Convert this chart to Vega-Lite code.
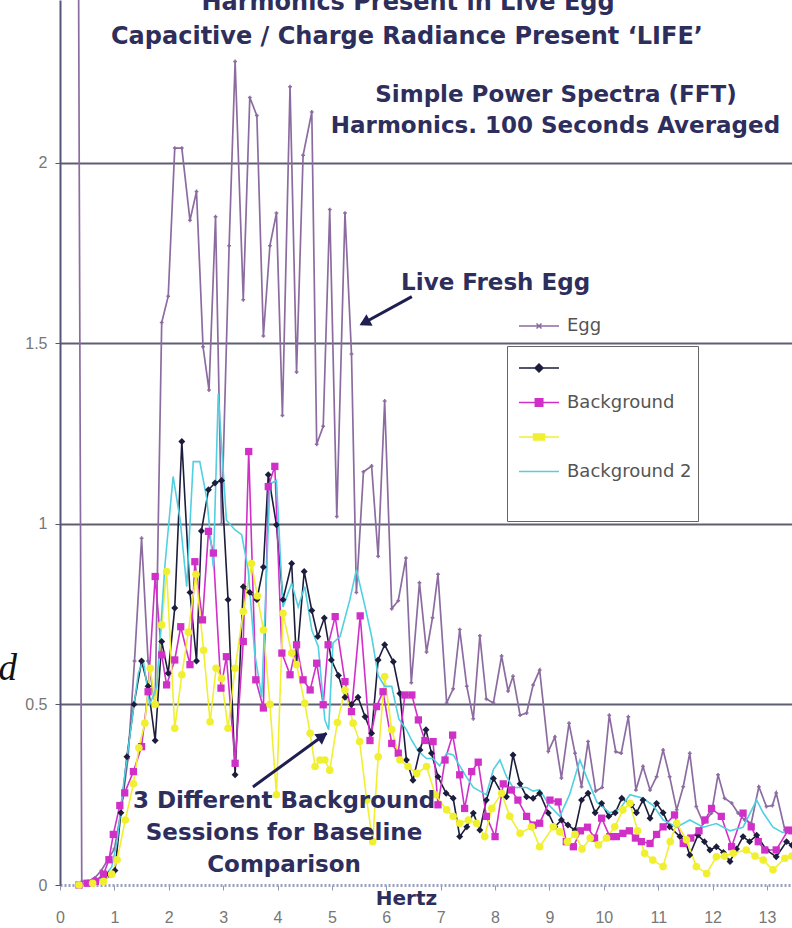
{
"$schema": "https://vega.github.io/schema/vega-lite/v6.json",
"width": 732, "height": 885,
"autosize": {"type": "none"},
"padding": {"left": 60, "top": 0, "right": 0, "bottom": 43},
"background": "white",
"config": {"view": {"stroke": null}, "font": "DejaVu Sans"},
"datasets": {
"egg": [
{"series":"Egg","x":0.33,"y":3.0},{"series":"Egg","x":0.40,"y":0.01},{"series":"Egg","x":0.52,"y":0.01},{"series":"Egg","x":0.64,"y":0.02},{"series":"Egg","x":0.76,"y":0.04},{"series":"Egg","x":0.88,"y":0.07},{"series":"Egg","x":1.00,"y":0.10},{"series":"Egg","x":1.12,"y":0.20},{"series":"Egg","x":1.25,"y":0.35},{"series":"Egg","x":1.37,"y":0.62},{"series":"Egg","x":1.50,"y":0.96},{"series":"Egg","x":1.62,"y":0.62},{"series":"Egg","x":1.75,"y":0.50},{"series":"Egg","x":1.87,"y":1.557},{"series":"Egg","x":1.99,"y":1.63},{"series":"Egg","x":2.11,"y":2.04},{"series":"Egg","x":2.24,"y":2.04},{"series":"Egg","x":2.39,"y":1.84},{"series":"Egg","x":2.51,"y":1.92},{"series":"Egg","x":2.63,"y":1.49},{"series":"Egg","x":2.74,"y":1.37},{"series":"Egg","x":2.86,"y":1.85},{"series":"Egg","x":2.97,"y":1.0},{"series":"Egg","x":3.11,"y":1.77},{"series":"Egg","x":3.22,"y":2.28},{"series":"Egg","x":3.37,"y":1.62},{"series":"Egg","x":3.49,"y":2.18},{"series":"Egg","x":3.62,"y":2.13},{"series":"Egg","x":3.74,"y":1.52},{"series":"Egg","x":3.86,"y":1.77},{"series":"Egg","x":3.98,"y":1.86},{"series":"Egg","x":4.09,"y":1.30},{"series":"Egg","x":4.23,"y":2.21},{"series":"Egg","x":4.35,"y":1.42},{"series":"Egg","x":4.47,"y":2.02},{"series":"Egg","x":4.63,"y":2.14},{"series":"Egg","x":4.72,"y":1.22},{"series":"Egg","x":4.84,"y":1.27},{"series":"Egg","x":4.96,"y":1.87},{"series":"Egg","x":5.09,"y":1.02},{"series":"Egg","x":5.24,"y":1.86},{"series":"Egg","x":5.36,"y":1.47},{"series":"Egg","x":5.45,"y":0.81},{"series":"Egg","x":5.58,"y":1.144},{"series":"Egg","x":5.73,"y":1.16},{"series":"Egg","x":5.85,"y":0.91},{"series":"Egg","x":5.97,"y":1.34},{"series":"Egg","x":6.10,"y":0.765},{"series":"Egg","x":6.22,"y":0.787},{"series":"Egg","x":6.36,"y":0.905},{"series":"Egg","x":6.46,"y":0.56},{"series":"Egg","x":6.61,"y":0.837},{"series":"Egg","x":6.74,"y":0.645},{"series":"Egg","x":6.85,"y":0.74},{"series":"Egg","x":6.95,"y":0.86},{"series":"Egg","x":7.11,"y":0.504},{"series":"Egg","x":7.23,"y":0.543},{"series":"Egg","x":7.35,"y":0.707},{"series":"Egg","x":7.48,"y":0.55},{"series":"Egg","x":7.60,"y":0.46},{"series":"Egg","x":7.72,"y":0.69},{"series":"Egg","x":7.84,"y":0.515},{"series":"Egg","x":7.97,"y":0.504},{"series":"Egg","x":8.12,"y":0.634},{"series":"Egg","x":8.24,"y":0.537},{"series":"Egg","x":8.33,"y":0.578},{"series":"Egg","x":8.46,"y":0.47},{"series":"Egg","x":8.58,"y":0.476},{"series":"Egg","x":8.70,"y":0.554},{"series":"Egg","x":8.82,"y":0.595},{"series":"Egg","x":8.98,"y":0.37},{"series":"Egg","x":9.10,"y":0.41},{"series":"Egg","x":9.22,"y":0.296},{"series":"Egg","x":9.36,"y":0.448},{"series":"Egg","x":9.47,"y":0.365},{"series":"Egg","x":9.59,"y":0.272},{"series":"Egg","x":9.71,"y":0.397},{"series":"Egg","x":9.85,"y":0.26},{"series":"Egg","x":9.97,"y":0.27},{"series":"Egg","x":10.10,"y":0.47},{"series":"Egg","x":10.22,"y":0.369},{"series":"Egg","x":10.32,"y":0.365},{"series":"Egg","x":10.45,"y":0.466},{"series":"Egg","x":10.59,"y":0.263},{"series":"Egg","x":10.72,"y":0.328},{"series":"Egg","x":10.85,"y":0.263},{"series":"Egg","x":10.97,"y":0.30},{"series":"Egg","x":11.09,"y":0.374},{"series":"Egg","x":11.21,"y":0.30},{"series":"Egg","x":11.34,"y":0.208},{"series":"Egg","x":11.46,"y":0.272},{"series":"Egg","x":11.58,"y":0.365},{"series":"Egg","x":11.70,"y":0.217},{"series":"Egg","x":11.83,"y":0.171},{"series":"Egg","x":11.98,"y":0.199},{"series":"Egg","x":12.10,"y":0.305},{"series":"Egg","x":12.22,"y":0.24},{"series":"Egg","x":12.35,"y":0.227},{"series":"Egg","x":12.47,"y":0.199},{"series":"Egg","x":12.59,"y":0.18},{"series":"Egg","x":12.71,"y":0.171},{"series":"Egg","x":12.85,"y":0.272},{"series":"Egg","x":12.99,"y":0.217},{"series":"Egg","x":13.10,"y":0.22},{"series":"Egg","x":13.17,"y":0.255},{"series":"Egg","x":13.33,"y":0.152},{"series":"Egg","x":13.46,"y":0.15}
],
"bg": [
{"series":"S1","x":0.35,"y":0.0},{"series":"S1","x":0.5,"y":0.005},{"series":"S1","x":0.65,"y":0.01},{"series":"S1","x":0.8,"y":0.02},{"series":"S1","x":0.9,"y":0.03},{"series":"S1","x":1.01,"y":0.04},{"series":"S1","x":1.12,"y":0.2},{"series":"S1","x":1.23,"y":0.355},{"series":"S1","x":1.36,"y":0.5},{"series":"S1","x":1.5,"y":0.62},{"series":"S1","x":1.62,"y":0.55},{"series":"S1","x":1.75,"y":0.40},{"series":"S1","x":1.87,"y":0.674},{"series":"S1","x":1.99,"y":0.586},{"series":"S1","x":2.11,"y":0.767},{"series":"S1","x":2.24,"y":1.228},{"series":"S1","x":2.39,"y":0.81},{"series":"S1","x":2.51,"y":0.62},{"series":"S1","x":2.60,"y":0.98},{"series":"S1","x":2.73,"y":1.094},{"series":"S1","x":2.85,"y":1.113},{"series":"S1","x":2.97,"y":1.12},{"series":"S1","x":3.09,"y":0.79},{"series":"S1","x":3.22,"y":0.305},{"series":"S1","x":3.37,"y":0.826},{"series":"S1","x":3.49,"y":0.81},{"series":"S1","x":3.62,"y":0.79},{"series":"S1","x":3.74,"y":0.88},{"series":"S1","x":3.83,"y":1.136},{"series":"S1","x":3.98,"y":0.997},{"series":"S1","x":4.10,"y":0.79},{"series":"S1","x":4.26,"y":0.89},{"series":"S1","x":4.35,"y":0.614},{"series":"S1","x":4.49,"y":0.868},{"series":"S1","x":4.63,"y":0.76},{"series":"S1","x":4.74,"y":0.688},{"series":"S1","x":4.86,"y":0.739},{"series":"S1","x":4.99,"y":0.623},{"series":"S1","x":5.12,"y":0.58},{"series":"S1","x":5.24,"y":0.52},{"series":"S1","x":5.36,"y":0.50},{"series":"S1","x":5.48,"y":0.52},{"series":"S1","x":5.61,"y":0.466},{"series":"S1","x":5.73,"y":0.42},{"series":"S1","x":5.85,"y":0.623},{"series":"S1","x":5.97,"y":0.665},{"series":"S1","x":6.13,"y":0.618},{"series":"S1","x":6.25,"y":0.53},{"series":"S1","x":6.37,"y":0.346},{"series":"S1","x":6.49,"y":0.29},{"series":"S1","x":6.62,"y":0.374},{"series":"S1","x":6.73,"y":0.43},{"series":"S1","x":6.83,"y":0.365},{"series":"S1","x":6.95,"y":0.30},{"series":"S1","x":7.10,"y":0.254},{"series":"S1","x":7.23,"y":0.24},{"series":"S1","x":7.35,"y":0.134},{"series":"S1","x":7.48,"y":0.161},{"series":"S1","x":7.60,"y":0.199},{"series":"S1","x":7.72,"y":0.152},{"series":"S1","x":7.84,"y":0.235},{"series":"S1","x":7.97,"y":0.295},{"series":"S1","x":8.12,"y":0.254},{"series":"S1","x":8.21,"y":0.244},{"series":"S1","x":8.33,"y":0.36},{"series":"S1","x":8.46,"y":0.28},{"series":"S1","x":8.58,"y":0.244},{"series":"S1","x":8.70,"y":0.24},{"series":"S1","x":8.82,"y":0.254},{"series":"S1","x":8.98,"y":0.199},{"series":"S1","x":9.10,"y":0.161},{"series":"S1","x":9.22,"y":0.18},{"series":"S1","x":9.34,"y":0.166},{"series":"S1","x":9.47,"y":0.152},{"series":"S1","x":9.59,"y":0.235},{"series":"S1","x":9.71,"y":0.254},{"series":"S1","x":9.84,"y":0.2},{"series":"S1","x":9.96,"y":0.226},{"series":"S1","x":10.09,"y":0.19},{"series":"S1","x":10.21,"y":0.2},{"series":"S1","x":10.33,"y":0.24},{"series":"S1","x":10.51,"y":0.222},{"series":"S1","x":10.60,"y":0.2},{"series":"S1","x":10.72,"y":0.235},{"series":"S1","x":10.85,"y":0.185},{"series":"S1","x":10.97,"y":0.226},{"series":"S1","x":11.09,"y":0.2},{"series":"S1","x":11.21,"y":0.161},{"series":"S1","x":11.40,"y":0.134},{"series":"S1","x":11.50,"y":0.12},{"series":"S1","x":11.58,"y":0.083},{"series":"S1","x":11.73,"y":0.138},{"series":"S1","x":11.85,"y":0.12},{"series":"S1","x":11.95,"y":0.097},{"series":"S1","x":12.07,"y":0.106},{"series":"S1","x":12.20,"y":0.09},{"series":"S1","x":12.32,"y":0.065},{"series":"S1","x":12.44,"y":0.1},{"series":"S1","x":12.56,"y":0.134},{"series":"S1","x":12.68,"y":0.12},{"series":"S1","x":12.81,"y":0.138},{"series":"S1","x":12.99,"y":0.097},{"series":"S1","x":13.17,"y":0.078},{"series":"S1","x":13.36,"y":0.12},{"series":"S1","x":13.46,"y":0.11},
{"series":"Background","x":0.35,"y":0.0},{"series":"Background","x":0.5,"y":0.005},{"series":"Background","x":0.65,"y":0.01},{"series":"Background","x":0.8,"y":0.03},{"series":"Background","x":0.9,"y":0.07},{"series":"Background","x":0.98,"y":0.14},{"series":"Background","x":1.10,"y":0.22},{"series":"Background","x":1.19,"y":0.255},{"series":"Background","x":1.35,"y":0.314},{"series":"Background","x":1.50,"y":0.383},{"series":"Background","x":1.62,"y":0.535},{"series":"Background","x":1.75,"y":0.854},{"series":"Background","x":1.87,"y":0.637},{"series":"Background","x":1.96,"y":0.554},{"series":"Background","x":2.11,"y":0.623},{"series":"Background","x":2.22,"y":0.715},{"series":"Background","x":2.39,"y":0.61},{"series":"Background","x":2.48,"y":0.895},{"series":"Background","x":2.62,"y":0.734},{"series":"Background","x":2.73,"y":0.979},{"series":"Background","x":2.82,"y":0.919},{"series":"Background","x":2.96,"y":0.545},{"series":"Background","x":3.06,"y":0.632},{"series":"Background","x":3.22,"y":0.337},{"series":"Background","x":3.37,"y":0.674},{"series":"Background","x":3.47,"y":1.20},{"series":"Background","x":3.60,"y":0.568},{"series":"Background","x":3.74,"y":0.49},{"series":"Background","x":3.83,"y":1.103},{"series":"Background","x":3.95,"y":1.159},{"series":"Background","x":4.08,"y":0.642},{"series":"Background","x":4.23,"y":0.582},{"series":"Background","x":4.35,"y":0.665},{"series":"Background","x":4.47,"y":0.568},{"series":"Background","x":4.60,"y":0.54},{"series":"Background","x":4.72,"y":0.614},{"series":"Background","x":4.84,"y":0.499},{"series":"Background","x":4.93,"y":0.665},{"series":"Background","x":5.06,"y":0.743},{"series":"Background","x":5.24,"y":0.563},{"series":"Background","x":5.36,"y":0.48},{"series":"Background","x":5.52,"y":0.745},{"series":"Background","x":5.70,"y":0.40},{"series":"Background","x":5.82,"y":0.494},{"series":"Background","x":5.94,"y":0.535},{"series":"Background","x":6.10,"y":0.392},{"series":"Background","x":6.22,"y":0.365},{"series":"Background","x":6.34,"y":0.526},{"series":"Background","x":6.47,"y":0.526},{"series":"Background","x":6.59,"y":0.457},{"series":"Background","x":6.71,"y":0.40},{"series":"Background","x":6.86,"y":0.397},{"series":"Background","x":6.95,"y":0.222},{"series":"Background","x":7.08,"y":0.346},{"series":"Background","x":7.22,"y":0.415},{"series":"Background","x":7.35,"y":0.305},{"series":"Background","x":7.44,"y":0.212},{"series":"Background","x":7.57,"y":0.314},{"series":"Background","x":7.69,"y":0.34},{"series":"Background","x":7.84,"y":0.19},{"series":"Background","x":8.00,"y":0.134},{"series":"Background","x":8.15,"y":0.28},{"series":"Background","x":8.30,"y":0.263},{"series":"Background","x":8.42,"y":0.235},{"series":"Background","x":8.58,"y":0.19},{"series":"Background","x":8.70,"y":0.166},{"series":"Background","x":8.82,"y":0.171},{"series":"Background","x":9.01,"y":0.235},{"series":"Background","x":9.16,"y":0.23},{"series":"Background","x":9.31,"y":0.12},{"series":"Background","x":9.44,"y":0.106},{"series":"Background","x":9.57,"y":0.15},{"series":"Background","x":9.70,"y":0.16},{"series":"Background","x":9.83,"y":0.13},{"series":"Background","x":9.96,"y":0.185},{"series":"Background","x":10.11,"y":0.134},{"series":"Background","x":10.23,"y":0.134},{"series":"Background","x":10.35,"y":0.143},{"series":"Background","x":10.47,"y":0.15},{"series":"Background","x":10.58,"y":0.13},{"series":"Background","x":10.69,"y":0.12},{"series":"Background","x":10.85,"y":0.115},{"series":"Background","x":10.97,"y":0.14},{"series":"Background","x":11.09,"y":0.161},{"series":"Background","x":11.30,"y":0.194},{"series":"Background","x":11.46,"y":0.115},{"series":"Background","x":11.60,"y":0.13},{"series":"Background","x":11.75,"y":0.15},{"series":"Background","x":11.86,"y":0.18},{"series":"Background","x":11.98,"y":0.212},{"series":"Background","x":12.16,"y":0.19},{"series":"Background","x":12.35,"y":0.106},{"series":"Background","x":12.56,"y":0.199},{"series":"Background","x":12.71,"y":0.161},{"series":"Background","x":12.84,"y":0.12},{"series":"Background","x":12.96,"y":0.097},{"series":"Background","x":13.17,"y":0.097},{"series":"Background","x":13.39,"y":0.152},{"series":"Background","x":13.46,"y":0.15},
{"series":"S3","x":0.35,"y":0.0},{"series":"S3","x":0.6,"y":0.005},{"series":"S3","x":0.8,"y":0.01},{"series":"S3","x":0.95,"y":0.03},{"series":"S3","x":1.05,"y":0.07},{"series":"S3","x":1.2,"y":0.18},{"series":"S3","x":1.35,"y":0.28},{"series":"S3","x":1.45,"y":0.38},{"series":"S3","x":1.56,"y":0.448},{"series":"S3","x":1.66,"y":0.6},{"series":"S3","x":1.75,"y":0.5},{"series":"S3","x":1.87,"y":0.72},{"series":"S3","x":1.96,"y":0.868},{"series":"S3","x":2.11,"y":0.434},{"series":"S3","x":2.24,"y":0.582},{"series":"S3","x":2.36,"y":0.7},{"series":"S3","x":2.50,"y":0.86},{"series":"S3","x":2.64,"y":0.65},{"series":"S3","x":2.76,"y":0.452},{"series":"S3","x":2.87,"y":0.6},{"series":"S3","x":2.97,"y":0.572},{"series":"S3","x":3.09,"y":0.434},{"series":"S3","x":3.22,"y":0.6},{"series":"S3","x":3.37,"y":0.757},{"series":"S3","x":3.52,"y":0.89},{"series":"S3","x":3.63,"y":0.8},{"series":"S3","x":3.74,"y":0.706},{"series":"S3","x":3.86,"y":0.5},{"series":"S3","x":3.98,"y":0.25},{"series":"S3","x":4.10,"y":0.752},{"series":"S3","x":4.26,"y":0.642},{"series":"S3","x":4.35,"y":0.61},{"series":"S3","x":4.50,"y":0.503},{"series":"S3","x":4.60,"y":0.42},{"series":"S3","x":4.69,"y":0.328},{"series":"S3","x":4.78,"y":0.346},{"series":"S3","x":4.87,"y":0.346},{"series":"S3","x":4.96,"y":0.318},{"series":"S3","x":5.10,"y":0.45},{"series":"S3","x":5.24,"y":0.54},{"series":"S3","x":5.39,"y":0.448},{"series":"S3","x":5.51,"y":0.397},{"series":"S3","x":5.64,"y":0.235},{"series":"S3","x":5.75,"y":0.12},{"series":"S3","x":5.85,"y":0.355},{"series":"S3","x":5.97,"y":0.577},{"series":"S3","x":6.10,"y":0.43},{"series":"S3","x":6.25,"y":0.346},{"series":"S3","x":6.40,"y":0.328},{"series":"S3","x":6.56,"y":0.309},{"series":"S3","x":6.74,"y":0.328},{"series":"S3","x":6.90,"y":0.25},{"series":"S3","x":7.11,"y":0.208},{"series":"S3","x":7.23,"y":0.19},{"series":"S3","x":7.35,"y":0.171},{"series":"S3","x":7.51,"y":0.18},{"series":"S3","x":7.66,"y":0.171},{"series":"S3","x":7.81,"y":0.134},{"series":"S3","x":7.94,"y":0.212},{"series":"S3","x":8.12,"y":0.254},{"series":"S3","x":8.27,"y":0.19},{"series":"S3","x":8.46,"y":0.143},{"series":"S3","x":8.67,"y":0.161},{"series":"S3","x":8.82,"y":0.106},{"series":"S3","x":9.07,"y":0.161},{"series":"S3","x":9.19,"y":0.147},{"series":"S3","x":9.33,"y":0.12},{"series":"S3","x":9.47,"y":0.14},{"series":"S3","x":9.60,"y":0.1},{"series":"S3","x":9.75,"y":0.13},{"series":"S3","x":9.90,"y":0.111},{"series":"S3","x":10.05,"y":0.13},{"series":"S3","x":10.20,"y":0.161},{"series":"S3","x":10.35,"y":0.208},{"series":"S3","x":10.48,"y":0.226},{"series":"S3","x":10.62,"y":0.15},{"series":"S3","x":10.75,"y":0.088},{"series":"S3","x":10.90,"y":0.069},{"series":"S3","x":11.09,"y":0.051},{"series":"S3","x":11.22,"y":0.12},{"series":"S3","x":11.34,"y":0.171},{"series":"S3","x":11.52,"y":0.125},{"series":"S3","x":11.70,"y":0.051},{"series":"S3","x":11.89,"y":0.032},{"series":"S3","x":12.07,"y":0.078},{"series":"S3","x":12.22,"y":0.08},{"series":"S3","x":12.38,"y":0.088},{"series":"S3","x":12.62,"y":0.097},{"series":"S3","x":12.78,"y":0.08},{"series":"S3","x":12.93,"y":0.069},{"series":"S3","x":13.11,"y":0.042},{"series":"S3","x":13.33,"y":0.074},{"series":"S3","x":13.46,"y":0.08},
{"series":"Background 2","x":0.35,"y":0.0},{"series":"Background 2","x":0.6,"y":0.005},{"series":"Background 2","x":0.8,"y":0.02},{"series":"Background 2","x":0.95,"y":0.05},{"series":"Background 2","x":1.05,"y":0.12},{"series":"Background 2","x":1.17,"y":0.28},{"series":"Background 2","x":1.29,"y":0.42},{"series":"Background 2","x":1.44,"y":0.586},{"series":"Background 2","x":1.53,"y":0.623},{"series":"Background 2","x":1.65,"y":0.5},{"series":"Background 2","x":1.78,"y":0.549},{"series":"Background 2","x":1.93,"y":0.886},{"series":"Background 2","x":2.08,"y":1.131},{"series":"Background 2","x":2.21,"y":1.01},{"series":"Background 2","x":2.33,"y":0.826},{"series":"Background 2","x":2.45,"y":1.172},{"series":"Background 2","x":2.57,"y":1.172},{"series":"Background 2","x":2.70,"y":1.07},{"series":"Background 2","x":2.82,"y":0.88},{"series":"Background 2","x":2.91,"y":1.36},{"series":"Background 2","x":3.06,"y":1.01},{"series":"Background 2","x":3.22,"y":0.983},{"series":"Background 2","x":3.34,"y":0.97},{"series":"Background 2","x":3.46,"y":0.873},{"series":"Background 2","x":3.58,"y":0.642},{"series":"Background 2","x":3.71,"y":0.52},{"series":"Background 2","x":3.86,"y":1.11},{"series":"Background 2","x":3.98,"y":1.12},{"series":"Background 2","x":4.10,"y":0.77},{"series":"Background 2","x":4.26,"y":0.835},{"series":"Background 2","x":4.38,"y":0.77},{"series":"Background 2","x":4.50,"y":0.826},{"series":"Background 2","x":4.63,"y":0.706},{"series":"Background 2","x":4.75,"y":0.66},{"series":"Background 2","x":4.87,"y":0.457},{"series":"Background 2","x":4.94,"y":0.43},{"series":"Background 2","x":5.02,"y":0.67},{"series":"Background 2","x":5.15,"y":0.688},{"series":"Background 2","x":5.33,"y":0.79},{"series":"Background 2","x":5.45,"y":0.873},{"series":"Background 2","x":5.61,"y":0.77},{"series":"Background 2","x":5.73,"y":0.688},{"series":"Background 2","x":5.85,"y":0.58},{"series":"Background 2","x":5.97,"y":0.55},{"series":"Background 2","x":6.10,"y":0.55},{"series":"Background 2","x":6.23,"y":0.46},{"series":"Background 2","x":6.37,"y":0.43},{"series":"Background 2","x":6.47,"y":0.40},{"series":"Background 2","x":6.59,"y":0.37},{"series":"Background 2","x":6.74,"y":0.35},{"series":"Background 2","x":6.86,"y":0.35},{"series":"Background 2","x":6.98,"y":0.33},{"series":"Background 2","x":7.11,"y":0.365},{"series":"Background 2","x":7.23,"y":0.36},{"series":"Background 2","x":7.35,"y":0.33},{"series":"Background 2","x":7.47,"y":0.30},{"series":"Background 2","x":7.60,"y":0.27},{"series":"Background 2","x":7.72,"y":0.26},{"series":"Background 2","x":7.84,"y":0.25},{"series":"Background 2","x":7.97,"y":0.32},{"series":"Background 2","x":8.09,"y":0.346},{"series":"Background 2","x":8.21,"y":0.30},{"series":"Background 2","x":8.33,"y":0.27},{"series":"Background 2","x":8.46,"y":0.27},{"series":"Background 2","x":8.58,"y":0.27},{"series":"Background 2","x":8.70,"y":0.26},{"series":"Background 2","x":8.82,"y":0.264},{"series":"Background 2","x":9.00,"y":0.22},{"series":"Background 2","x":9.19,"y":0.19},{"series":"Background 2","x":9.37,"y":0.25},{"series":"Background 2","x":9.56,"y":0.346},{"series":"Background 2","x":9.68,"y":0.30},{"series":"Background 2","x":9.87,"y":0.23},{"series":"Background 2","x":10.11,"y":0.20},{"series":"Background 2","x":10.29,"y":0.21},{"series":"Background 2","x":10.48,"y":0.25},{"series":"Background 2","x":10.72,"y":0.24},{"series":"Background 2","x":10.91,"y":0.22},{"series":"Background 2","x":11.09,"y":0.18},{"series":"Background 2","x":11.34,"y":0.16},{"series":"Background 2","x":11.58,"y":0.18},{"series":"Background 2","x":11.83,"y":0.16},{"series":"Background 2","x":12.07,"y":0.17},{"series":"Background 2","x":12.32,"y":0.15},{"series":"Background 2","x":12.56,"y":0.16},{"series":"Background 2","x":12.81,"y":0.235},{"series":"Background 2","x":12.93,"y":0.20},{"series":"Background 2","x":13.11,"y":0.16},{"series":"Background 2","x":13.29,"y":0.145},{"series":"Background 2","x":13.46,"y":0.16}
],
"notes": [
{"text":"Harmonics Present in Live Egg","x":6.40,"y":2.421,"size":"big"},
{"text":"Capacitive / Charge Radiance Present ‘LIFE’","x":6.38,"y":2.327,"size":"big"},
{"text":"Simple Power Spectra (FFT)","x":9.12,"y":2.169,"size":"small"},
{"text":"Harmonics. 100 Seconds Averaged","x":9.11,"y":2.083,"size":"small"},
{"text":"Live Fresh Egg","x":8.01,"y":1.648,"size":"small"},
{"text":"3 Different Background","x":4.12,"y":0.213,"size":"small"},
{"text":"Sessions for Baseline","x":4.12,"y":0.125,"size":"small"},
{"text":"Comparison","x":4.12,"y":0.036,"size":"small"}
],
"arrows": [
{"x":6.47,"y":1.629,"x2":5.55,"y2":1.553},
{"x":3.548,"y":0.2715,"x2":4.90,"y2":0.42}
]
},
"encoding": {
"x": {"field":"x","type":"quantitative","scale":{"domain":[0,13.46],"nice":false,"zero":false},
 "axis":{"values":[0,1,2,3,4,5,6,7,8,9,10,11,12,13],"title":"Hertz","titleFont":"DejaVu Sans","titleFontSize":20,"titleFontWeight":"bold","titleColor":"#2e2e5c","titleX":346,"titleY":13,"titleBaseline":"middle","titleAlign":"center","titleAnchor":"start","labelFont":"Liberation Sans","labelFontSize":16,"labelColor":"#777777","labelPadding":19,"labelFlush":false,"labelOverlap":false,"tickSize":5,"tickColor":"#9098b8","domainColor":"#9aa0c0","domainWidth":3,"domainDash":[2,2],"grid":false}},
"y": {"field":"y","type":"quantitative","scale":{"domain":[0,2.45],"nice":false,"zero":false},
 "axis":{"values":[0,0.5,1,1.5,2],"format":"~g","title":null,"labelFont":"Liberation Sans","labelFontSize":16,"labelColor":"#777777","labelPadding":8,"tickSize":5,"tickColor":"#555570","domainColor":"#555577","domainWidth":2,"grid":true,"gridColor":"#5f5f73","gridWidth":2,"gridOpacity":{"condition":{"test":"datum.value === 0","value":0},"value":1}}}
},
"layer": [
{
 "data":{"name":"egg"},
 "encoding":{"color":{"field":"series","type":"nominal","scale":{"domain":["Egg"],"range":["#8c6ca0"]},
  "legend":{"orient":"none","legendX":447,"legendY":304,"title":null,"padding":6,"symbolSize":900,"labelFont":"DejaVu Sans","labelFontSize":18,"labelColor":"#555555","labelOffset":22,
   "encode":{"symbols":{"update":{"shape":{"value":"M-0.667,0H2M0.5,-0.17L0.833,0.17M0.5,0.17L0.833,-0.17"},"stroke":{"value":"#8c6ca0"},"fill":{"value":"transparent"},"strokeWidth":{"value":1.5}}}}}}},
 "layer":[
  {"mark":{"type":"line","clip":true,"strokeWidth":1.7}},
  {"mark":{"type":"point","clip":true,"shape":"cross","size":14,"filled":true,"opacity":1}}
 ]
},
{
 "data":{"name":"bg"},
 "encoding":{"color":{"field":"series","type":"nominal","scale":{"domain":["S1","Background","S3","Background 2","_"],"range":["#1c1c3c","#d030c8","#f0f030","#50d0e0","#ffffff"]},
  "legend":{"orient":"none","legendX":447,"legendY":346,"title":null,"padding":6,"rowPadding":9.5,"symbolSize":900,"labelFont":"DejaVu Sans","labelFontSize":18,"labelColor":"#555555","labelOffset":22,"strokeColor":"#666666","fillColor":"#ffffff",
   "labelExpr":"datum.value === 'S1' || datum.value === 'S3' || datum.value === '_' ? '' : datum.value",
   "encode":{"symbols":{"update":{
     "shape":{"signal":"datum.value === 'S1' ? 'M-0.667,0H2M0.4,0L0.667,-0.27L0.933,0L0.667,0.27Z' : datum.value === 'Background' ? 'M-0.667,0H2M0.42,-0.25H0.92V0.25H0.42Z' : datum.value === 'S3' ? 'M-0.667,0H2M0.3,-0.2H1.03V0.2H0.3Z' : 'M-0.667,0H2'"},
     "fill":{"signal":"datum.value === 'S1' ? '#1c1c3c' : datum.value === 'Background' ? '#d030c8' : datum.value === 'S3' ? '#f0f030' : 'transparent'"},
     "stroke":{"signal":"datum.value === 'S1' ? '#1c1c3c' : datum.value === 'Background' ? '#d030c8' : datum.value === 'S3' ? '#f0f030' : datum.value === 'Background 2' ? '#50d0e0' : 'transparent'"},
     "strokeWidth":{"value":1.5}}}}}}},
 "layer":[
  {"mark":{"type":"line","strokeWidth":1.6}},
  {"transform":[{"filter":"datum.series !== 'Background 2'"}],
   "mark":{"type":"point","filled":true,"opacity":1},
   "encoding":{"shape":{"field":"series","type":"nominal","scale":{"domain":["S1","Background","S3"],"range":["diamond","square","circle"]},"legend":null},
    "size":{"field":"series","type":"nominal","scale":{"domain":["S1","Background","S3"],"range":[48,58,40]},"legend":null}}}
 ]
},
{
 "data":{"name":"notes"},
 "transform":[{"filter":"datum.size === 'small'"}],
 "mark":{"type":"text","font":"DejaVu Sans","fontWeight":"bold","fontSize":23,"color":"#2e2e5c","align":"center","baseline":"alphabetic"},
 "encoding":{"text":{"field":"text"}}
},
{
 "data":{"name":"notes"},
 "transform":[{"filter":"datum.size === 'big'"}],
 "mark":{"type":"text","font":"DejaVu Sans","fontWeight":"bold","fontSize":24,"color":"#2e2e5c","align":"center","baseline":"alphabetic"},
 "encoding":{"text":{"field":"text"}}
},
{
 "data":{"values":[{"x":-0.79,"y":0.568}]},
 "mark":{"type":"text","text":"d","font":"Liberation Serif","fontStyle":"italic","fontSize":37,"color":"#111111","align":"right","baseline":"alphabetic"}
},
{
 "data":{"name":"arrows"},
 "mark":{"type":"rule","strokeWidth":3,"color":"#1e1e50"},
 "encoding":{"x2":{"field":"x2"},"y2":{"field":"y2"}}
},
{
 "data":{"values":[{"x":5.6,"y":1.557}]},
 "mark":{"type":"point","shape":"triangle-up","filled":true,"size":170,"angle":242,"color":"#1e1e50","opacity":1}
},
{
 "data":{"values":[{"x":4.83,"y":0.412}]},
 "mark":{"type":"point","shape":"triangle-up","filled":true,"size":170,"angle":54,"color":"#1e1e50","opacity":1}
}
],
"resolve":{"scale":{"color":"independent","shape":"independent","size":"independent"},"legend":{"color":"independent"}}
}
